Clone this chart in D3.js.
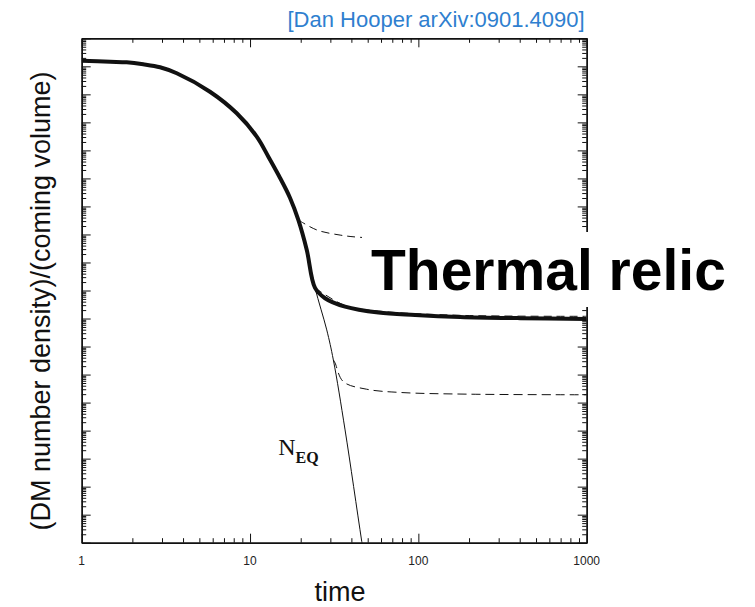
<!DOCTYPE html>
<html>
<head>
<meta charset="utf-8">
<script src="https://cdn.jsdelivr.net/npm/d3@7"></script>
<style>
  body { margin: 0; background: #fff; }
  svg { display: block; }
  .axis path, .axis line { stroke: #111; }
</style>
</head>
<body>
<svg id="chart" width="755" height="607"></svg>
<script>
// time axis ticks
var xTickLabels = [1, 10, 100, 1000];

// equilibrium abundance N_EQ (thin line)
var eqTime = [1.00, 1.475, 1.85, 2.32, 2.92, 3.67, 5.78, 8.34, 10.96, 12.85, 14.87, 17.29, 19.36, 21.73, 24.33, 28.56, 31.26, 36.69, 46.1, 51.6];
var eqValue = [1.59e-1, 1.46e-1, 1.39e-1, 1.18e-1, 9.23e-2, 5.64e-2, 1.24e-2, 2.11e-3, 3.09e-4, 5.97e-5, 1.22e-5, 2.01e-6, 3.30e-7, 2.80e-8, 1.24e-9, 3.92e-11, 3.33e-12, 1.06e-14, 1.10e-18, 1.4e-20];

// thermal relic (thick line): follows N_EQ until freeze-out
var relicTime = [1.00, 1.475, 1.85, 2.32, 2.92, 3.67, 5.78, 8.34, 10.96, 12.85, 14.87, 17.29, 19.36, 21.73, 24.33, 27.9, 36.69, 57.9, 95.6, 177, 402, 1000];
var relicValue = [1.59e-1, 1.46e-1, 1.39e-1, 1.18e-1, 9.23e-2, 5.64e-2, 1.24e-2, 2.11e-3, 3.09e-4, 5.97e-5, 1.22e-5, 2.01e-6, 3.30e-7, 2.80e-8, 1.24e-9, 5.30e-10, 2.66e-10, 1.63e-10, 1.34e-10, 1.14e-10, 1.03e-10, 9.7e-11];

// dashed alternatives (other annihilation cross sections)
var dashA_time = [19.36, 24.9, 34.3, 45.1, 102, 1000];
var dashA_value = [3.3e-7, 1.45e-7, 9.5e-8, 7.9e-8, 6.9e-8, 6.3e-8];
var dashB_time = [24.33, 36.69, 57.9, 177, 1000];
var dashB_value = [1.24e-9, 2.9e-10, 1.85e-10, 1.3e-10, 1.2e-10];
var dashC_time = [31.26, 32.0, 35.8, 49.3, 77.8, 194, 1000];
var dashC_value = [3.33e-12, 2.6e-12, 5.6e-13, 3.0e-13, 2.3e-13, 2.0e-13, 1.9e-13];

var svg = d3.select('#chart');
var marginLeft = 81.7, marginTop = 38.3, plotW = 505, plotH = 504.4;

var x = d3.scaleLog().domain([1, 1000]).range([0, plotW]);
var y = d3.scaleLog().domain([1e-18, 1]).range([plotH, 0]);

var g = svg.append("g").attr("transform", "translate(" + marginLeft + "," + marginTop + ")");

g.append("clipPath").attr("id", "plot-clip")
  .append("rect").attr("width", plotW).attr("height", plotH);

// minor/major tick values
var xMinor = [], yMajor = [], yMinor = [];
[1, 10, 100].forEach(function(d) {
  for (var k = 2; k < 10; k++) xMinor.push(d * k);
});
for (var e = -18; e <= 0; e++) {
  yMajor.push(Math.pow(10, e));
  if (e < 0) for (var k = 2; k < 10; k++) yMinor.push(k * Math.pow(10, e));
}

function tickAxis(axis, vals, size) {
  return axis.tickValues(vals).tickSizeInner(size).tickSizeOuter(0).tickFormat("");
}

var axes = g.append("g").attr("class", "axis");
axes.append("g").attr("transform", "translate(0," + plotH + ")").call(tickAxis(d3.axisBottom(x), xTickLabels, -9));
axes.append("g").attr("transform", "translate(0," + plotH + ")").call(tickAxis(d3.axisBottom(x), xMinor, -4.5));
axes.append("g").call(tickAxis(d3.axisTop(x), xTickLabels, -9));
axes.append("g").call(tickAxis(d3.axisTop(x), xMinor, -4.5));
axes.append("g").call(tickAxis(d3.axisLeft(y), yMajor, -9));
axes.append("g").call(tickAxis(d3.axisLeft(y), yMinor, -4.5));
axes.append("g").attr("transform", "translate(" + plotW + ",0)").call(tickAxis(d3.axisRight(y), yMajor, -9));
axes.append("g").attr("transform", "translate(" + plotW + ",0)").call(tickAxis(d3.axisRight(y), yMinor, -4.5));
axes.selectAll("path.domain").attr("stroke-width", 1.4);
axes.selectAll("line").attr("stroke-width", 1);

// x tick labels
g.selectAll("text.xtick")
  .data(xTickLabels)
  .enter()
  .append("text")
  .attr("class", "xtick")
  .attr("x", function(d) { return x(d); })
  .attr("y", plotH + 22)
  .attr("text-anchor", "middle")
  .style("font-family", "Liberation Sans, Arial, sans-serif")
  .style("font-size", "12px")
  .style("fill", "#222")
  .text(function(d) { return d; });

var line = d3.line()
  .x(function(d) { return x(d[0]); })
  .y(function(d) { return y(d[1]); })
  .curve(d3.curveCatmullRom.alpha(0.5));

var curves = g.append("g").attr("clip-path", "url(#plot-clip)");

function addCurve(t, v, w, dash) {
  curves.append("path")
    .datum(d3.zip(t, v))
    .attr("d", line)
    .attr("fill", "none")
    .attr("stroke", "#111")
    .attr("stroke-width", w)
    .attr("stroke-dasharray", dash);
}

addCurve(eqTime, eqValue, 1, null);
addCurve(dashA_time, dashA_value, 1, "8,5");
addCurve(dashC_time, dashC_value, 1, "9,5");
addCurve(dashB_time, dashB_value, 1, "8,5");
addCurve(relicTime, relicValue, 4, null);

// N_EQ label
var neq = g.append("text")
  .attr("x", x(14.7))
  .attr("y", y(1.4e-15))
  .style("font-family", "Liberation Serif, Times New Roman, serif")
  .style("fill", "#111");
neq.append("tspan").style("font-size", "24px").text("N");
neq.append("tspan").attr("dy", 8).style("font-size", "16px").style("font-weight", "bold").text("EQ");

// "Thermal relic" label over a white box
svg.append("rect")
  .attr("x", 362).attr("y", 232)
  .attr("width", 375).attr("height", 75)
  .attr("fill", "#fff");
svg.append("text")
  .attr("x", 371)
  .attr("y", 290)
  .style("font-family", "Liberation Sans, Arial, sans-serif")
  .style("font-size", "57px")
  .style("font-weight", "bold")
  .style("fill", "#000")
  .text("Thermal relic");

// credit line
svg.append("text")
  .attr("x", marginLeft + plotW - 2)
  .attr("y", 27)
  .attr("text-anchor", "end")
  .style("font-family", "Liberation Sans, Arial, sans-serif")
  .style("font-size", "22px")
  .style("fill", "#2f7fcf")
  .text("[Dan Hooper arXiv:0901.4090]");

// axis titles
svg.append("text")
  .attr("x", 340)
  .attr("y", 601)
  .attr("text-anchor", "middle")
  .style("font-family", "Liberation Sans, Arial, sans-serif")
  .style("font-size", "27px")
  .style("fill", "#111")
  .text("time");

svg.append("text")
  .attr("transform", "translate(50,301) rotate(-90)")
  .attr("text-anchor", "middle")
  .style("font-family", "Liberation Sans, Arial, sans-serif")
  .style("font-size", "27px")
  .style("fill", "#111")
  .text("(DM number density)/(coming volume)");
</script>
</body>
</html>
